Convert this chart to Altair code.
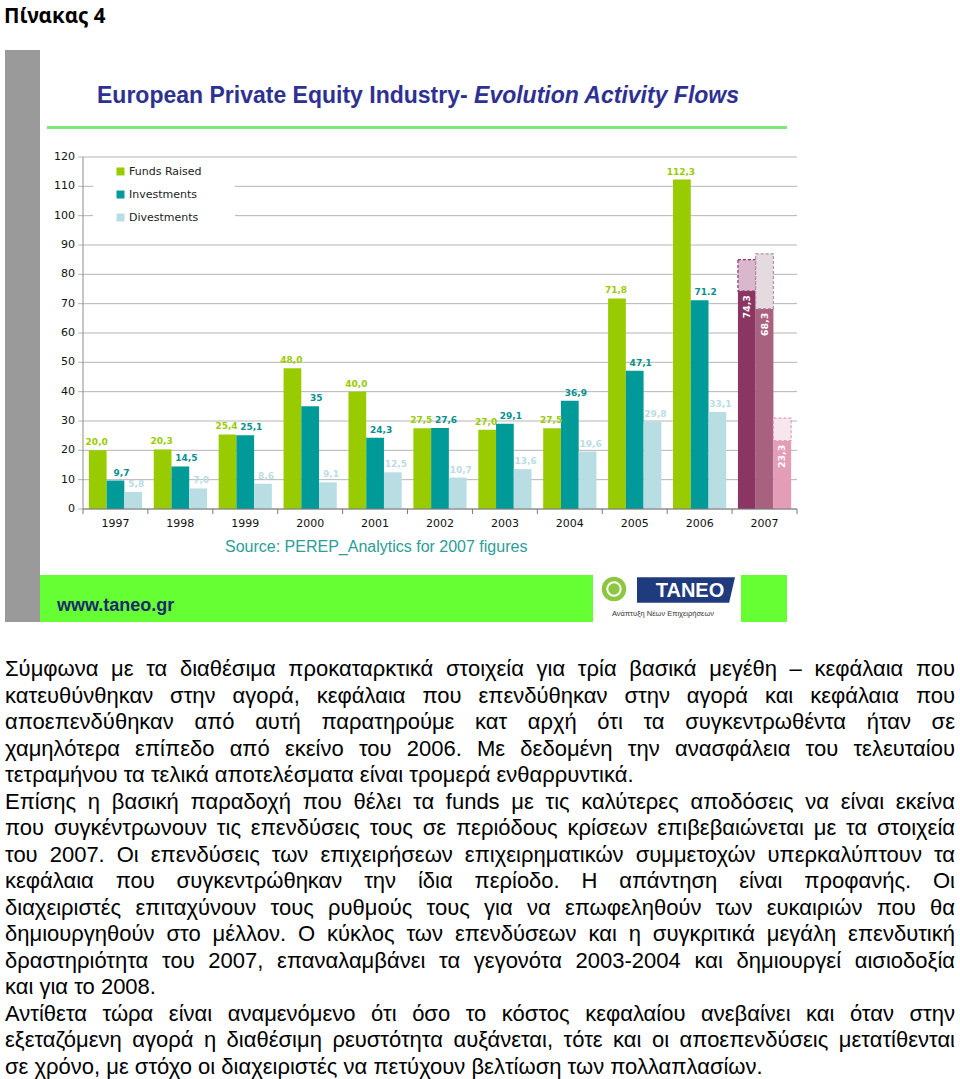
import glob
import altair as alt
import pandas as pd

# ---------------- data ----------------
years = ["1997", "1998", "1999", "2000", "2001", "2002", "2003", "2004", "2005", "2006", "2007"]
series = ["Funds Raised", "Investments", "Divestments"]
funds_raised = [20.0, 20.3, 25.4, 48.0, 40.0, 27.5, 27.0, 27.5, 71.8, 112.3, 74.3]
investments = [9.7, 14.5, 25.1, 35.0, 24.3, 27.6, 29.1, 36.9, 47.1, 71.2, 68.3]
divestments = [5.8, 7.0, 8.6, 9.1, 12.5, 10.7, 13.6, 19.6, 29.8, 33.1, 23.3]
funds_labels = ["20,0", "20,3", "25,4", "48,0", "40,0", "27,5", "27,0", "27,5", "71,8", "112,3", "74,3"]
inv_labels = ["9,7", "14,5", "25,1", "35", "24,3", "27,6", "29,1", "36,9", "47,1", "71.2", "68,3"]
div_labels = ["5,8", "7,0", "8,6", "9,1", "12,5", "10,7", "13,6", "19,6", "29,8", "33,1", "23,3"]
ext_tops_2007 = [85.0, 87.0, 31.0]   # dashed (estimated) extensions of the 2007 bars
y_ticks = [0, 10, 20, 30, 40, 50, 60, 70, 80, 90, 100, 110, 120]

heading = "Πίνακας 4"
title_a = "European Private Equity Industry- "
title_b = "Evolution Activity Flows"
source_note = "Source: PEREP_Analytics for 2007 figures"
banner_url = "www.taneo.gr"
logo_name = "TANEO"
logo_sub = "Ανάπτυξη Νέων Επιχειρήσεων"
paragraph_lines = [
    "Σύμφωνα με τα διαθέσιμα προκαταρκτικά στοιχεία για τρία βασικά μεγέθη – κεφάλαια που",
    "κατευθύνθηκαν στην αγορά, κεφάλαια που επενδύθηκαν στην αγορά και κεφάλαια που",
    "αποεπενδύθηκαν από αυτή παρατηρούμε κατ αρχή ότι τα συγκεντρωθέντα ήταν σε",
    "χαμηλότερα επίπεδο από εκείνο του 2006. Με δεδομένη την ανασφάλεια του τελευταίου",
    "τετραμήνου τα τελικά αποτελέσματα είναι τρομερά ενθαρρυντικά.",
    "Επίσης η βασική παραδοχή που θέλει τα funds με τις καλύτερες αποδόσεις να είναι εκείνα",
    "που συγκέντρωνουν τις επενδύσεις τους σε περιόδους κρίσεων επιβεβαιώνεται με τα στοιχεία",
    "του 2007. Οι επενδύσεις των επιχειρήσεων επιχειρηματικών συμμετοχών υπερκαλύπτουν τα",
    "κεφάλαια που συγκεντρώθηκαν την ίδια περίοδο. Η απάντηση είναι προφανής. Οι",
    "διαχειριστές επιταχύνουν τους ρυθμούς τους για να επωφεληθούν των ευκαιριών που θα",
    "δημιουργηθούν στο μέλλον. Ο κύκλος των επενδύσεων και η συγκριτικά μεγάλη επενδυτική",
    "δραστηριότητα του 2007, επαναλαμβάνει τα γεγονότα 2003-2004 και δημιουργεί αισιοδοξία",
    "και για το 2008.",
    "Αντίθετα τώρα είναι αναμενόμενο ότι όσο το κόστος κεφαλαίου ανεβαίνει και όταν στην",
    "εξεταζόμενη αγορά η διαθέσιμη ρευστότητα αυξάνεται, τότε και οι αποεπενδύσεις μετατίθενται",
    "σε χρόνο, με στόχο οι διαχειριστές να πετύχουν βελτίωση των πολλαπλασίων.",
]
paragraph_end_lines = [4, 12, 15]   # lines that are not justified

# ---------------- text measuring (for justified paragraph layout) ----------------
PARA_SIZE = 22
TITLE_SIZE = 23
try:
    from PIL import ImageFont

    def _font(name, size):
        paths = glob.glob("/usr/share/fonts/**/" + name, recursive=True)
        return ImageFont.truetype(paths[0], size) if paths else None

    _pf = _font("LiberationSans-Regular.ttf", PARA_SIZE)
    _tf = _font("LiberationSans-Bold.ttf", TITLE_SIZE)
    para_w = (lambda t: _pf.getlength(t)) if _pf else (lambda t: len(t) * PARA_SIZE * 0.5)
    title_w = (lambda t: _tf.getlength(t)) if _tf else (lambda t: len(t) * TITLE_SIZE * 0.56)
except Exception:
    para_w = lambda t: len(t) * PARA_SIZE * 0.5
    title_w = lambda t: len(t) * TITLE_SIZE * 0.56

PARA_LEFT, PARA_RIGHT = 5, 955
PARA_TOP, PARA_LINE = 676, 26.5
word_rows = []
for li, line in enumerate(paragraph_lines):
    words = line.split(" ")
    widths = [para_w(w) for w in words]
    if li in paragraph_end_lines or len(words) < 2:
        gap = para_w(" ")
    else:
        gap = (PARA_RIGHT - PARA_LEFT - sum(widths)) / (len(words) - 1)
    x = PARA_LEFT
    for w, wd in zip(words, widths):
        word_rows.append({"word": w, "px": x, "py": PARA_TOP + li * PARA_LINE})
        x += wd + gap
words_df = pd.DataFrame(word_rows)

# ---------------- tables ----------------
rows = []
for i, y in enumerate(years):
    for s, vals, labs in [("Funds Raised", funds_raised, funds_labels),
                          ("Investments", investments, inv_labels),
                          ("Divestments", divestments, div_labels)]:
        key = s + (" 2007" if y == "2007" else "")
        rows.append({"year": y, "series": s, "value": vals[i], "label": labs[i], "key": key})
bars_df = pd.DataFrame(rows)
ext_df = pd.DataFrame({"year": ["2007"] * 3, "series": series,
                       "value": [funds_raised[-1], investments[-1], divestments[-1]],
                       "top": ext_tops_2007})
ticks_df = pd.DataFrame({"v": y_ticks})
years_df = pd.DataFrame({"year": years})
one = pd.DataFrame({"a": [0]})

# ---------------- scales ----------------
X0, X1 = 83, 797
Y0, Y1 = 509, 157
xscale = alt.Scale(domain=years, range=[X0, X1], paddingInner=0.18, paddingOuter=0.09)
xoff_scale = alt.Scale(domain=series, paddingInner=0, paddingOuter=0)
yscale = alt.Scale(domain=[0, 120], range=[Y0, Y1], nice=False, zero=True)
step = (X1 - X0) / len(years)

key_domain = ["Funds Raised", "Investments", "Divestments",
              "Funds Raised 2007", "Investments 2007", "Divestments 2007"]
key_range = ["#99cc00", "#009a98", "#b8dde3", "#8b3563", "#a8627f", "#e39db7"]

X = alt.X("year:N", scale=xscale, axis=None)
XO = alt.XOffset("series:N", scale=xoff_scale)

# ---------------- decoration ----------------
def rect(x, x2, y, y2, color):
    return alt.Chart(one).mark_rect(color=color).encode(
        x=alt.value(x), x2=alt.value(x2), y=alt.value(y), y2=alt.value(y2))

def label(text, x, y, **kw):
    return alt.Chart(one).mark_text(text=text, **kw).encode(x=alt.value(x), y=alt.value(y))

gray_strip = rect(5, 40, 50, 622, "#9a9a9a")
green_line = rect(47, 787, 126, 129, "#7ce87c")
heading_t = label(heading, 4, 23, font="Noto Sans", fontSize=20.5, fontWeight="bold",
                  align="left", baseline="alphabetic", color="#000000")
TITLE_X = 97
title_ta = label(title_a, TITLE_X, 103, font="Liberation Sans", fontSize=TITLE_SIZE,
                 fontWeight="bold", align="left", baseline="alphabetic", color="#2e3192")
title_tb = label(title_b, TITLE_X + title_w(title_a), 103, font="Liberation Sans",
                 fontSize=TITLE_SIZE, fontWeight="bold", fontStyle="italic", align="left",
                 baseline="alphabetic", color="#2e3192")

# ---------------- chart layers ----------------
grid = alt.Chart(ticks_df).mark_rule(color="#b5b5b5", strokeWidth=1).encode(
    y=alt.Y("v:Q", scale=yscale, axis=None), x=alt.value(78), x2=alt.value(X1))
legend_bg = rect(93, 235, 161, 228, "#ffffff")
ylabels = alt.Chart(ticks_df).mark_text(font="DejaVu Sans", fontSize=11, align="right",
                                        baseline="middle", color="#111111").encode(
    y=alt.Y("v:Q", scale=yscale, axis=None), x=alt.value(75), text="v:Q")

bars = alt.Chart(bars_df).mark_bar().encode(
    x=X, xOffset=XO, y=alt.Y("value:Q", scale=yscale, axis=None), y2=alt.datum(0),
    color=alt.Color("key:N", scale=alt.Scale(domain=key_domain, range=key_range),
                    legend=alt.Legend(values=series, orient="none", legendX=115, legendY=166,
                                      title=None, symbolType="square", symbolSize=64,
                                      symbolStrokeWidth=0, labelFont="DejaVu Sans",
                                      labelFontSize=11, labelColor="#222222",
                                      rowPadding=11, labelOffset=3, padding=0)))

ext_fill = ["#d9b7cd", "#e4dadf", "#f8e6ee"]
ext_stroke = ["#8b3563", "#b78ea3", "#e39db7"]
ext_layers = []
for s, f, st in zip(series, ext_fill, ext_stroke):
    ext_layers.append(alt.Chart(ext_df).transform_filter(alt.datum.series == s).mark_bar(
        fill=f, stroke=st, strokeDash=[3, 2], strokeWidth=1.2).encode(
        x=X, xOffset=XO, y=alt.Y("top:Q", scale=yscale, axis=None), y2="value:Q"))

label_colors = ["#99cc00", "#0a9090", "#b9dde3"]
label_dx = [-1, 6, 3]
label_layers = []
for s, c, ddx in zip(series, label_colors, label_dx):
    label_layers.append(alt.Chart(bars_df).transform_filter(
        (alt.datum.series == s) & (alt.datum.year != "2007")).mark_text(
        font="DejaVu Sans", fontSize=9, fontWeight="bold", color=c, dy=-5, dx=ddx,
        baseline="alphabetic").encode(
        x=X, xOffset=XO, y=alt.Y("value:Q", scale=yscale, axis=None), text="label:N"))
labels_2007 = alt.Chart(bars_df).transform_filter(alt.datum.year == "2007").mark_text(
    font="DejaVu Sans", fontSize=9.5, fontWeight="bold", color="#ffffff", angle=270,
    align="right", baseline="middle", dx=-4).encode(
    x=X, xOffset=XO, y=alt.Y("value:Q", scale=yscale, axis=None), text="label:N")

y_axis_line = rect(82.5, 83.5, Y1, Y0, "#8e8e8e")
x_axis_line = rect(X0, X1, 508.5, 509.5, "#7a7a7a")
x_ticks = alt.Chart(years_df).mark_rule(color="#7a7a7a", xOffset=-0.09 * step).encode(
    x=alt.X("year:N", scale=xscale, axis=None, bandPosition=0),
    y=alt.value(509), y2=alt.value(514))
x_tick_end = alt.Chart(one).mark_rule(color="#7a7a7a").encode(
    x=alt.value(X1), y=alt.value(509), y2=alt.value(514))
xlabels = alt.Chart(years_df).mark_text(font="DejaVu Sans", fontSize=11, baseline="middle",
                                        color="#111111").encode(
    x=X, y=alt.value(524), text="year:N")
source_t = label(source_note, 225, 547, font="Liberation Sans", fontSize=16,
                 align="left", baseline="middle", color="#2c9d98")

chart_part = alt.layer(
    grid, legend_bg, ylabels, bars, *ext_layers, *label_layers, labels_2007,
    y_axis_line, x_axis_line, x_ticks, x_tick_end, xlabels,
)

# ---------------- banner & logo ----------------
banner = rect(40, 593, 575, 622, "#66ff33")
banner_r = rect(741, 787, 575, 622, "#66ff33")
url_t = label(banner_url, 57, 606, font="Liberation Sans", fontSize=18, fontWeight="bold",
              align="left", baseline="middle", color="#1b2a6b")
logo_shape = alt.Chart(one).mark_point(
    shape="M -1 -0.26 L 1 -0.26 L 0.88 0.26 L -1 0.26 Z", filled=True, fill="#1f3a7d",
    size=9604, strokeWidth=0, opacity=1).encode(x=alt.value(686), y=alt.value(590))
logo_circle = alt.Chart(one).mark_point(shape="circle", filled=True, fill="#8dc63f",
                                        size=600, opacity=1, strokeWidth=0).encode(
    x=alt.value(614), y=alt.value(589))
logo_ring = alt.Chart(one).mark_point(shape="circle", filled=False, stroke="#ffffff",
                                      size=180, strokeWidth=2, opacity=1).encode(
    x=alt.value(614), y=alt.value(589))
logo_t = label(logo_name, 690, 591, font="Liberation Sans", fontSize=20, fontWeight="bold",
               align="center", baseline="middle", color="#ffffff")
logo_sub_t = label(logo_sub, 663, 614, font="Liberation Sans", fontSize=7.5,
                   align="center", baseline="middle", color="#333333")

# ---------------- paragraph (justified word by word) ----------------
para = alt.Chart(words_df).mark_text(font="Liberation Sans", fontSize=PARA_SIZE, align="left",
                                     baseline="alphabetic", color="#000000").encode(
    x=alt.X("px:Q", scale=None, axis=None), y=alt.Y("py:Q", scale=None, axis=None),
    text="word:N")

chart = alt.layer(
    gray_strip, green_line, heading_t, title_ta, title_tb,
    chart_part, source_t,
    banner, banner_r, url_t, logo_circle, logo_ring, logo_shape, logo_t, logo_sub_t,
    para,
).resolve_scale(x="independent", y="independent").properties(
    width=960, height=1079, autosize=alt.AutoSizeParams(type="none"), padding=0,
    background="#ffffff",
).configure_view(stroke=None)

chart.save("out.html", embed_options={"renderer": "svg", "actions": False})
